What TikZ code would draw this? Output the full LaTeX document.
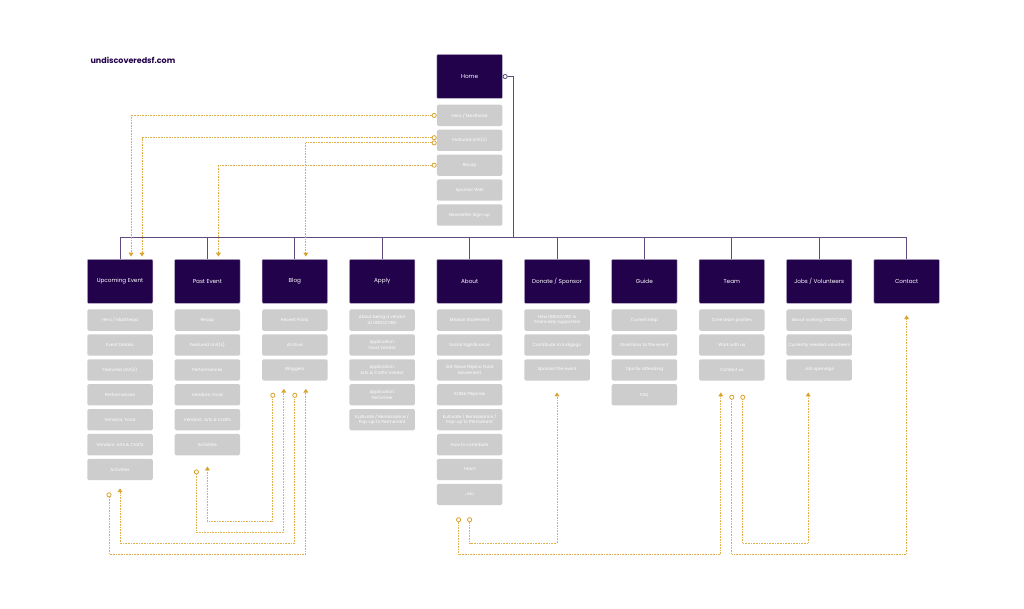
\documentclass[tikz,border=0pt]{standalone}
\usepackage{fontspec}
\setmainfont{Poppins}
\usetikzlibrary{positioning,arrows.meta}
\definecolor{plum}{HTML}{22024B}
\definecolor{tile}{HTML}{CDCDCD}
\definecolor{gold}{HTML}{D9A32E}
\definecolor{goldl}{HTML}{DFB24E}
\definecolor{wire}{HTML}{5E4C7E}
\tikzset{
  head/.style={fill=plum,draw=plum!30,line width=.5pt,rounded corners=1pt,
    minimum width=65.5pt,minimum height=44pt,text=white,font=\fontsize{5.7}{7}\selectfont},
  page/.style={fill=tile,rounded corners=1.5pt,minimum width=65.5pt,minimum height=21.3pt,
    inner sep=1pt,align=center,text=white,font=\fontsize{4.3}{5.6}\selectfont},
  wire/.style={draw=wire,line width=.8pt},
  link/.style={draw=goldl,line width=.9pt,dash pattern=on .8pt off .8pt,
    {Circle[color=gold,fill=white,length=5pt,line width=.8pt]}-{Triangle[color=gold,width=4.6pt,length=3.8pt]}}
}
\begin{document}
\begin{tikzpicture}[x=1pt,y=-1pt,node distance=3.2pt]
\useasboundingbox[fill=white] (0,0) rectangle (1024,609);
\node[anchor=base west,text=plum,font=\fontsize{8}{9}\selectfont\bfseries] (title) at (87,64) {undiscoveredsf.com};
% home
\node[head] (H) at (469.6,76.5) {Home};
\node[page,below=5.8pt of H] (H1) {Hero / Masthead};
\node[page,below=of H1] (H2) {Featured Unit(s)};
\node[page,below=of H2] (H3) {Recap};
\node[page,below=of H3] (H4) {Sponsor Wall};
\node[page,below=of H4] (H5) {Newsletter Sign-up};
% sections
\node[head] (U) at (120,281.3) {Upcoming Event};
\node[page,below=5.7pt of U] (U1) {Hero / Masthead};
\node[page,below=of U1] (U2) {Event Details};
\node[page,below=of U2] (U3) {Featured Unit(s)};
\node[page,below=of U3] (U4) {Performances};
\node[page,below=of U4] (U5) {Vendors: Food};
\node[page,below=of U5] (U6) {Vendors: Arts \& Crafts};
\node[page,below=of U6] (U7) {Activities};
\node[head] (P) at (207.4,281.3) {Past Event};
\node[page,below=5.7pt of P] (P1) {Recap};
\node[page,below=of P1] (P2) {Featured Unit(s)};
\node[page,below=of P2] (P3) {Performances};
\node[page,below=of P3] (P4) {Vendors: Food};
\node[page,below=of P4] (P5) {Vendors: Arts \& Crafts};
\node[page,below=of P5] (P6) {Activities};
\node[head] (B) at (294.8,281.3) {Blog};
\node[page,below=5.7pt of B] (B1) {Recent Posts};
\node[page,below=of B1] (B2) {Archive};
\node[page,below=of B2] (B3) {Bloggers};
\node[head] (Ap) at (382.2,281.3) {Apply};
\node[page,below=5.7pt of Ap] (Ap1) {About being a vendor\\at UNDSCVRD};
\node[page,below=of Ap1] (Ap2) {Application:\\Food Vendor};
\node[page,below=of Ap2] (Ap3) {Application:\\Arts \& Crafts Vendor};
\node[page,below=of Ap3] (Ap4) {Application:\\Performer};
\node[page,below=of Ap4] (Ap5) {Kultivate / Renaissance /\\Pop-up to Permenant};
\node[head] (A) at (469.6,281.3) {About};
\node[page,below=5.7pt of A] (A1) {Mission Statement};
\node[page,below=of A1] (A2) {Social Significance};
\node[page,below=of A2] (A3) {3rd Wave Filipino Food\\Movement};
\node[page,below=of A3] (A4) {SOMA Pilipinas};
\node[page,below=of A4] (A5) {Kultivate / Renaissance /\\Pop-up to Permenant};
\node[page,below=of A5] (A6) {How to contribute};
\node[page,below=of A6] (A7) {Team};
\node[page,below=of A7] (A8) {...etc.};
\node[head] (D) at (557,281.3) {Donate / Sponsor};
\node[page,below=5.7pt of D] (D1) {How UNDSCVRD is\\financially supported};
\node[page,below=of D1] (D2) {Contribute to Indigogo};
\node[page,below=of D2] (D3) {Sponsor the event};
\node[head] (G) at (644.4,281.3) {Guide};
\node[page,below=5.7pt of G] (G1) {Current Map};
\node[page,below=of G1] (G2) {Directions to the event};
\node[page,below=of G2] (G3) {Tips for attending};
\node[page,below=of G3] (G4) {FAQ};
\node[head] (T) at (731.8,281.3) {Team};
\node[page,below=5.7pt of T] (T1) {Core team profiles};
\node[page,below=of T1] (T2) {Work with us};
\node[page,below=of T2] (T3) {Contact us};
\node[head] (J) at (819.2,281.3) {Jobs / Volunteers};
\node[page,below=5.7pt of J] (J1) {About working UNDSCVRD};
\node[page,below=of J1] (J2) {Currently needed volunteers};
\node[page,below=of J2] (J3) {Job openings};
\node[head] (C) at (906.6,281.3) {Contact};
% tree
\coordinate (Y0) at (0,237.3);
\coordinate (K) at (513,237.3);
\draw[wire,{Circle[color=wire,fill=white,length=5pt,line width=.8pt]}-] (H.east) -| (K);
\draw[wire] (U.north) |- (C.north |- Y0) -- (C.north);
\draw[wire] (P.north |- Y0) -- (P.north);
\draw[wire] (B.north |- Y0) -- (B.north);
\draw[wire] (Ap.north |- Y0) -- (Ap.north);
\draw[wire] (A.north |- Y0) -- (A.north);
\draw[wire] (D.north |- Y0) -- (D.north);
\draw[wire] (G.north |- Y0) -- (G.north);
\draw[wire] (T.north |- Y0) -- (T.north);
\draw[wire] (J.north |- Y0) -- (J.north);
% links from home
\draw[link,shorten >=2.5pt] (H1.west) -| ([xshift=11pt]U.north);
\draw[link,shorten >=2.5pt] ([yshift=2.6pt]H2.west) -| ([xshift=22pt]U.north);
\draw[link,shorten >=2.5pt] ([yshift=-2.6pt]H2.west) -| ([xshift=11pt]B.north);
\draw[link,shorten >=2.5pt] (H3.west) -| ([xshift=11pt]P.north);
% links between sections
\coordinate (Y1) at (0,521.5);
\coordinate (Y2) at (0,532.5);
\coordinate (Y3) at (0,543.2);
\coordinate (Y4) at (0,554);
\coordinate (UO) at ([xshift=-11pt]U7.south);
\coordinate (PO) at ([xshift=-11pt]P6.south);
\coordinate (BO) at ([xshift=-22pt]B3.south);
\coordinate (BI) at ([xshift=-11pt]B3.south);
\coordinate (BJ) at ([xshift=11pt]B3.south);
\coordinate (AO) at ([xshift=-11pt]A8.south);
\coordinate (TI) at ([xshift=-11pt]T3.south);
\coordinate (TO) at ([xshift=11pt]T3.south);
\coordinate (JI) at ([xshift=-11pt]J3.south);
\draw[link,shorten <=12pt,shorten >=11pt] (BO) |- (P6.south |- Y1) -- (P6.south);
\draw[link,shorten <=14pt,shorten >=8pt] (PO) |- (BI |- Y2) -- (BI);
\draw[link,shorten <=12pt,shorten >=8pt] (B3.south) |- (U7.south |- Y3) -- (U7.south);
\draw[link,shorten <=12pt,shorten >=8pt] (UO) |- (BJ |- Y4) -- (BJ);
\draw[link,shorten <=12pt,shorten >=11.7pt] (A8.south) |- (D3.south |- Y3) -- (D3.south);
\draw[link,shorten <=12pt,shorten >=11.7pt] (AO) |- (TI |- Y4) -- (TI);
\draw[link,shorten <=14pt,shorten >=11.7pt] (TO) |- (JI |- Y3) -- (JI);
\draw[link,shorten <=14pt,shorten >=11.7pt] (T3.south) |- (C.south |- Y4) -- (C.south);
\end{tikzpicture}
\end{document}
